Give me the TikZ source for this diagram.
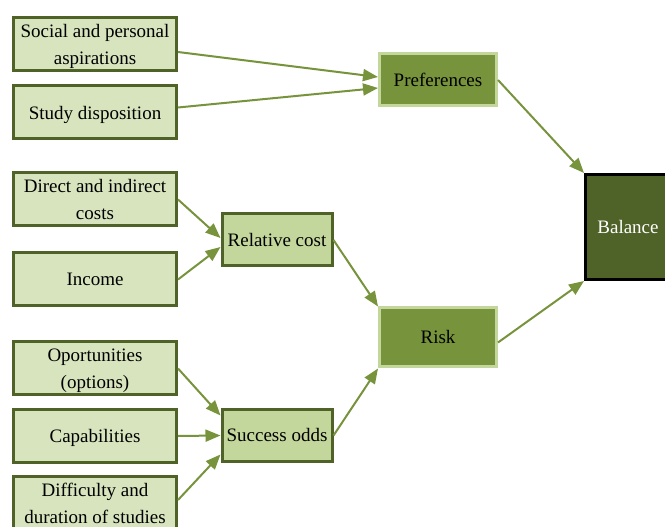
\documentclass[tikz,border=0pt]{standalone}
\usepackage{fontspec}
\setmainfont{Liberation Serif}
\usetikzlibrary{arrows.meta}

\definecolor{lightolive}{HTML}{D7E4BD}
\definecolor{midolive}{HTML}{C3D69B}
\definecolor{olive}{HTML}{77933C}
\definecolor{darkolive}{HTML}{4F6228}

\tikzset{
  factor/.style={draw=darkolive,fill=lightolive,line width=3pt,align=center,
    minimum width=163pt,minimum height=53pt,inner sep=1pt,text depth=0pt},
  middle/.style={draw=darkolive,fill=midolive,line width=3pt,align=center,
    minimum width=110pt,minimum height=52pt,inner sep=1pt},
  outcome/.style={draw=midolive,fill=olive,line width=3pt,align=center,
    minimum width=117pt,inner sep=1pt},
  arr/.style={->,draw=olive,line width=2pt}
}

\begin{document}
\begin{tikzpicture}[x=1pt,y=1pt,>={Triangle[length=15pt,width=12pt]},
  font=\fontsize{19}{27}\selectfont]

\useasboundingbox (0,0) rectangle (665,527);

% left column
\node[factor] (social) at (95,483) {Social and personal\\aspirations};
\node[factor] (study) at (95,414.5) {Study disposition};
\node[factor] (direct) at (95,327.5) {Direct and indirect\\costs};
\node[factor] (income) at (95,247.5) {Income};
\node[factor] (opport) at (95,158.5) {Oportunities\\(options)};
\node[factor] (capab) at (95,91) {Capabilities};
\node[factor] (diffic) at (95,24) {Difficulty and\\duration of studies};

% middle column
\node[middle] (relcost) at (277,287) {Relative cost};
\node[middle] (succ) at (277,91.5) {Success odds};

% right column
\node[outcome,minimum height=52pt] (pref) at (438,447) {Preferences};
\node[outcome,minimum height=59pt] (risk) at (438,189.5) {Risk};
\node[draw=black,fill=darkolive,text=white,line width=3pt,
  minimum width=85pt,minimum height=105pt] (balance) at (628,300) {Balance};

% connectors
\draw[arr] ([yshift=-8pt]social.east) -- ([yshift=3pt]pref.west);
\draw[arr] ([yshift=5pt]study.east) -- ([yshift=-8pt]pref.west);
\draw[arr] (direct.east) -- ([yshift=2pt]relcost.west);
\draw[arr] (income.east) -- ([yshift=-7pt]relcost.west);
\draw[arr] (opport.east) -- ([yshift=20pt]succ.west);
\draw[arr] (capab.east) -- (succ.west);
\draw[arr] ([yshift=3pt]diffic.east) -- ([yshift=-19pt]succ.west);
\draw[arr] (relcost.east) -- (risk.north west);
\draw[arr] (succ.east) -- (risk.south west);
\draw[arr] (pref.east) -- (balance.north west);
\draw[arr] ([yshift=-5pt]risk.east) -- (balance.south west);

\end{tikzpicture}
\end{document}
